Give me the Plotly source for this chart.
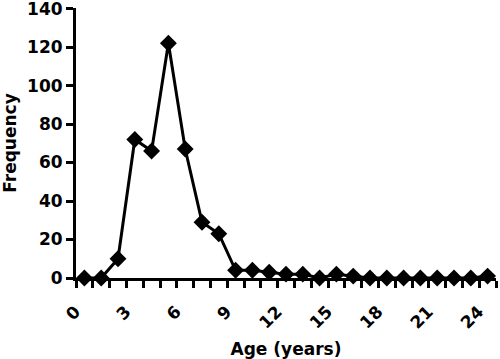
import plotly.graph_objects as go

ages = list(range(0, 25))
frequency = [0, 0, 10, 72, 66, 122, 67, 29, 23, 4, 4, 3, 2, 2, 0, 2, 1, 0, 0, 0, 0, 0, 0, 0, 1]
x_tick_vals = [0, 3, 6, 9, 12, 15, 18, 21, 24]
y_tick_vals = [0, 20, 40, 60, 80, 100, 120, 140]

FONT = "DejaVu Sans"

fig = go.Figure()
fig.add_trace(go.Scatter(
    x=ages, y=frequency, mode="lines+markers",
    line=dict(color="black", width=3),
    marker=dict(symbol="diamond", size=13, color="black"),
    cliponaxis=False,
))

fig.update_layout(
    width=500, height=359,
    margin=dict(l=76, r=4, t=8, b=81),
    paper_bgcolor="white", plot_bgcolor="white",
    showlegend=False,
    font=dict(family=FONT, size=17, color="black"),
    xaxis=dict(
        range=[-0.5, 24.5],
        tickvals=x_tick_vals,
        ticktext=["<b>%d</b>" % v for v in x_tick_vals],
        tickangle=-45,
        ticks="",
        ticklabelstandoff=14,
        ticklabelshift=-9,
        ticklabeloverflow="allow",
        automargin=False,
        showgrid=False, zeroline=False,
        showline=True, linecolor="black", linewidth=3,
        minor=dict(ticks="outside", tickvals=[i - 0.5 for i in range(26)],
                   ticklen=7, tickwidth=3, tickcolor="black", showgrid=False),
        tickfont=dict(family=FONT, size=17, color="black"),
        title=dict(text="<b>Age (years)</b>", font=dict(family=FONT, size=17), standoff=12),
    ),
    yaxis=dict(
        range=[0, 140.3],
        tickvals=y_tick_vals,
        ticktext=["<b>%d</b>" % v for v in y_tick_vals],
        ticks="outside", ticklen=7, tickwidth=3, tickcolor="black",
        ticklabeloverflow="allow",
        automargin=False,
        showgrid=False, zeroline=False,
        showline=True, linecolor="black", linewidth=3,
        tickfont=dict(family=FONT, size=17, color="black"),
        title=dict(text="<b>Frequency</b>", font=dict(family=FONT, size=17), standoff=9),
    ),
)

fig.write_html("out.html", config={"displayModeBar": False},
               post_script="document.body.style.margin='0';")
